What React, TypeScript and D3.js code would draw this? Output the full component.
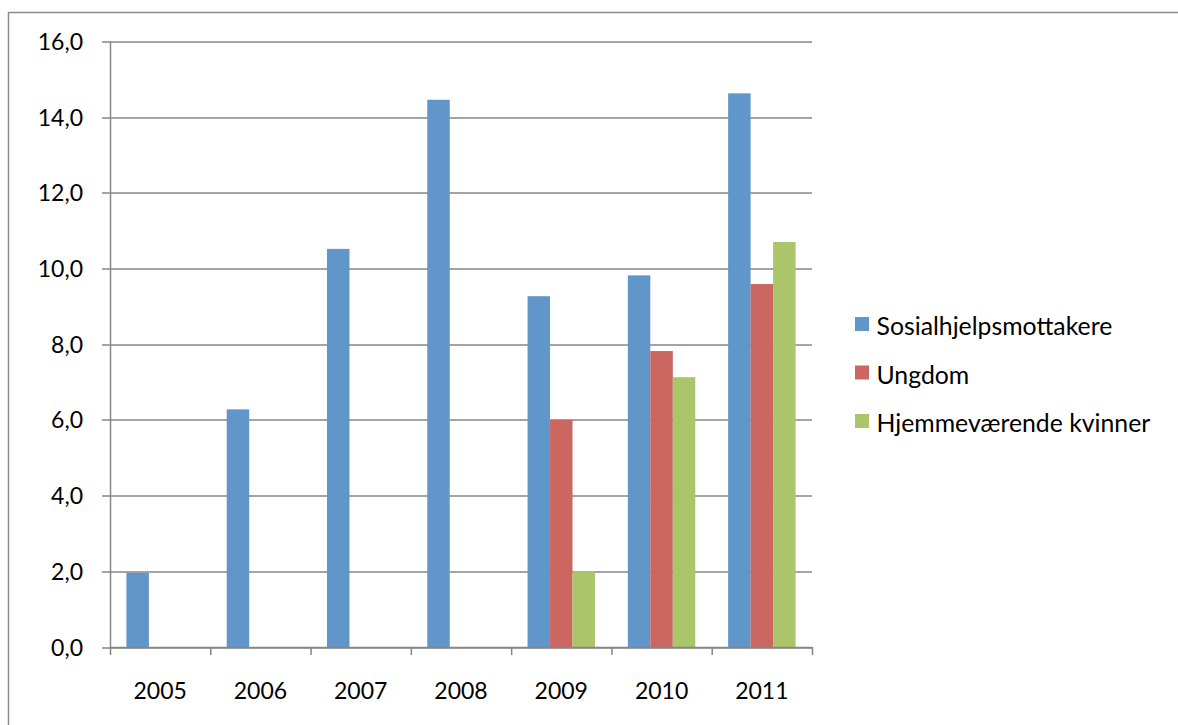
import React from "react";
import * as d3 from "d3";

// Chart data
const years = ["2005", "2006", "2007", "2008", "2009", "2010", "2011"];
const seriesNames = ["Sosialhjelpsmottakere", "Ungdom", "Hjemmeværende kvinner"];
const sosialhjelp = [1.96, 6.28, 10.52, 14.46, 9.27, 9.82, 14.63];
const ungdom = [null, null, null, null, 6.0, 7.82, 9.59];
const hjemmevaerende = [null, null, null, null, 2.0, 7.13, 10.7];
const yTicks = [0, 2, 4, 6, 8, 10, 12, 14, 16];
const colors = ["#6096c9", "#cb6661", "#abc56a"];

const FONT = "Lato, 'Open Sans', sans-serif";

export default function App() {
  const width = 1178;
  const height = 725;
  const margin = { top: 41.5, left: 110, right: 366, bottom: 78 };
  const plotW = width - margin.left - margin.right;
  const plotH = height - margin.top - margin.bottom;

  const values = [sosialhjelp, ungdom, hjemmevaerende];

  const x = d3.scaleBand().domain(years).range([0, plotW]).paddingInner(0).paddingOuter(0);
  const inner = d3
    .scaleBand()
    .domain(seriesNames)
    .range([0, x.bandwidth()])
    .paddingOuter(0.73)
    .paddingInner(0);
  const y = d3.scaleLinear().domain([0, 16]).range([plotH, 0]);

  const axisColor = "#868686";

  return (
    <svg
      width={width}
      height={height}
      style={{ position: "absolute", left: 0, top: 0, background: "#fff" }}
    >
      {/* outer chart frame */}
      <rect x={8.5} y={12.5} width={1300} height={900} fill="#fff" stroke="#8c8c8c" strokeWidth={1.5} />

      <g transform={`translate(${margin.left}, ${margin.top})`}>
        {/* gridlines and y ticks */}
        {yTicks.map((t) => (
          <g key={`y-${t}`} transform={`translate(0, ${Math.round(y(t)) + 0.5})`}>
            <line x1={-8} x2={plotW} stroke={axisColor} strokeWidth={1.3} />
            <text
              x={-27}
              dy="0.36em"
              textAnchor="end"
              fontFamily={FONT}
              fontSize={23}
              fill="#000"
            >
              {d3.format(".1f")(t).replace(".", ",")}
            </text>
          </g>
        ))}

        {/* bars */}
        {values.map((series, si) =>
          series.map((v, i) =>
            v == null ? null : (
              <rect
                key={`bar-${si}-${i}`}
                x={(x(years[i]) ?? 0) + (inner(seriesNames[si]) ?? 0)}
                y={y(v)}
                width={inner.bandwidth()}
                height={plotH - y(v)}
                fill={colors[si]}
              />
            )
          )
        )}

        {/* y axis line */}
        <line x1={0.5} x2={0.5} y1={0} y2={plotH + 0.5} stroke={axisColor} strokeWidth={1.5} />
        {/* x axis line */}
        <line x1={0} x2={plotW} y1={plotH + 0.5} y2={plotH + 0.5} stroke={axisColor} strokeWidth={1.5} />

        {/* category ticks */}
        {[...years.map((yr) => x(yr) ?? 0), plotW].map((px, i) => (
          <line
            key={`xt-${i}`}
            x1={px + 0.5}
            x2={px + 0.5}
            y1={plotH}
            y2={plotH + 8}
            stroke={axisColor}
            strokeWidth={1.5}
          />
        ))}

        {/* category labels */}
        {years.map((yr) => (
          <text
            key={`xl-${yr}`}
            x={(x(yr) ?? 0) + x.bandwidth() / 2}
            y={plotH + 52}
            textAnchor="middle"
            fontFamily={FONT}
            fontSize={23}
            fill="#000"
          >
            {yr}
          </text>
        ))}
      </g>

      {/* legend */}
      <g transform="translate(855, 317)">
        {seriesNames.map((name, i) => (
          <g key={`lg-${name}`} transform={`translate(0, ${i * 48.5})`}>
            <rect x={0} y={0} width={14} height={14} fill={colors[i]} />
            <text x={21.5} y={18} fontFamily={FONT} fontSize={24.8} fill="#000">
              {name}
            </text>
          </g>
        ))}
      </g>
    </svg>
  );
}
